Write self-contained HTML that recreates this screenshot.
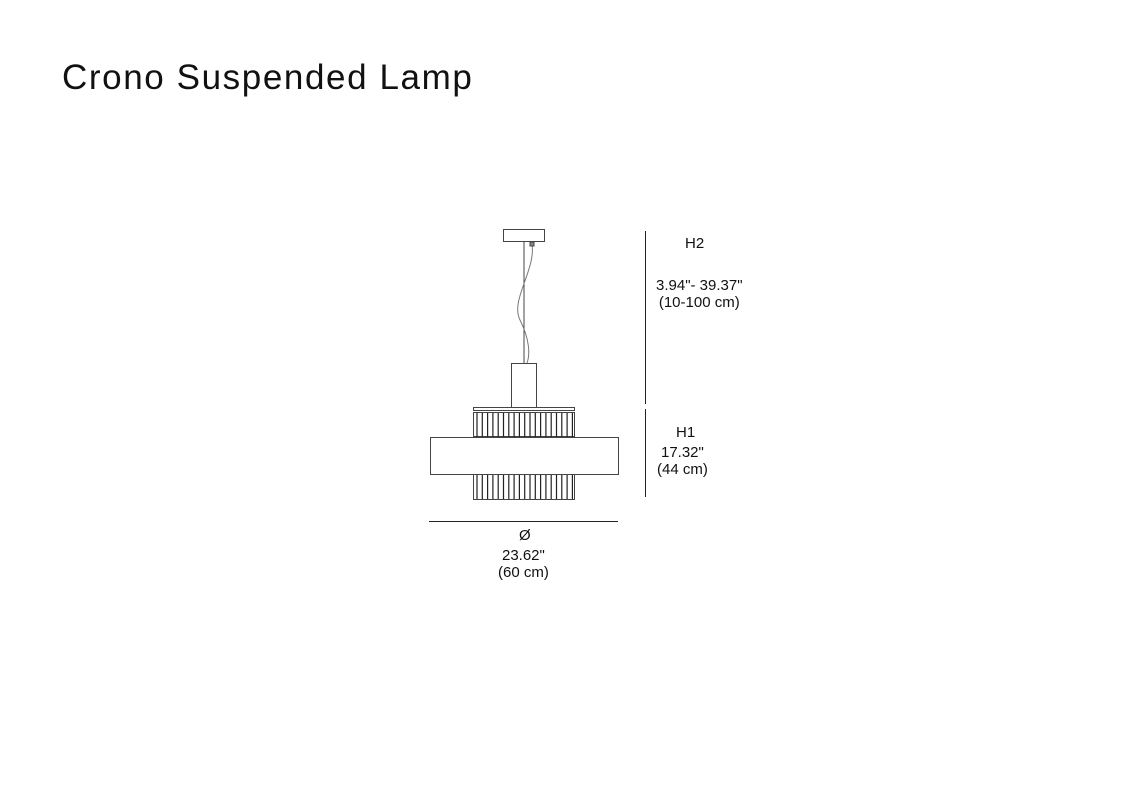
<!DOCTYPE html>
<html><head><style>
body{margin:0;width:1136px;height:800px;background:#fff;overflow:hidden;position:relative;font-family:"Century Gothic","URW Gothic","Liberation Sans",sans-serif;color:#111}
.t{position:absolute;white-space:nowrap;font-size:15px;line-height:17px;text-align:center}
</style></head><body>
<div style="position:absolute;left:62px;top:56px;font-size:35px;line-height:44px;color:#111;letter-spacing:1.6px">Crono Suspended Lamp</div>
<svg width="1136" height="800" style="position:absolute;left:0;top:0">
<g fill="none" stroke="#444" stroke-width="1">
<rect x="503.5" y="229.5" width="41" height="12"/>
<line x1="524" y1="242" x2="524" y2="363"/>
<path d="M532 244 C536 270 510 300 520 320 C530 340 530 355 527 363" stroke="#777"/>
<rect x="530" y="242" width="4" height="4" fill="#888"/>
<rect x="511.5" y="363.5" width="25" height="44"/>
<rect x="473.5" y="407.5" width="101" height="3"/>
<rect x="473.5" y="412.5" width="101" height="24"/>
<rect x="430.5" y="437.5" width="188" height="37"/>
<rect x="473.5" y="474.5" width="101" height="25"/>
</g>
<g stroke="#222" stroke-width="1.2" id="ribs"></g>
<g stroke="#222" stroke-width="1">
<line x1="645.5" y1="231" x2="645.5" y2="404"/>
<line x1="645.5" y1="409" x2="645.5" y2="497"/>
<line x1="429" y1="521.5" x2="618" y2="521.5"/>
</g>
</svg>
<script>
var g=document.getElementById('ribs'),s='';
for(var i=0;i<19;i++){var x=477+i*5.3;s+='<line x1="'+x+'" y1="413" x2="'+x+'" y2="437"/><line x1="'+x+'" y1="475" x2="'+x+'" y2="499"/>';}
g.innerHTML=s;
</script>
<div class="t" style="left:685px;top:235px">H2</div>
<div class="t" style="left:656px;top:277px">3.94"- 39.37"<br>(10-100 cm)</div>
<div class="t" style="left:676px;top:424px">H1</div>
<div class="t" style="left:657px;top:444px">17.32"<br>(44 cm)</div>
<div class="t" style="left:519px;top:527px">Ø</div>
<div class="t" style="left:498px;top:547px">23.62"<br>(60 cm)</div>
</body></html>
